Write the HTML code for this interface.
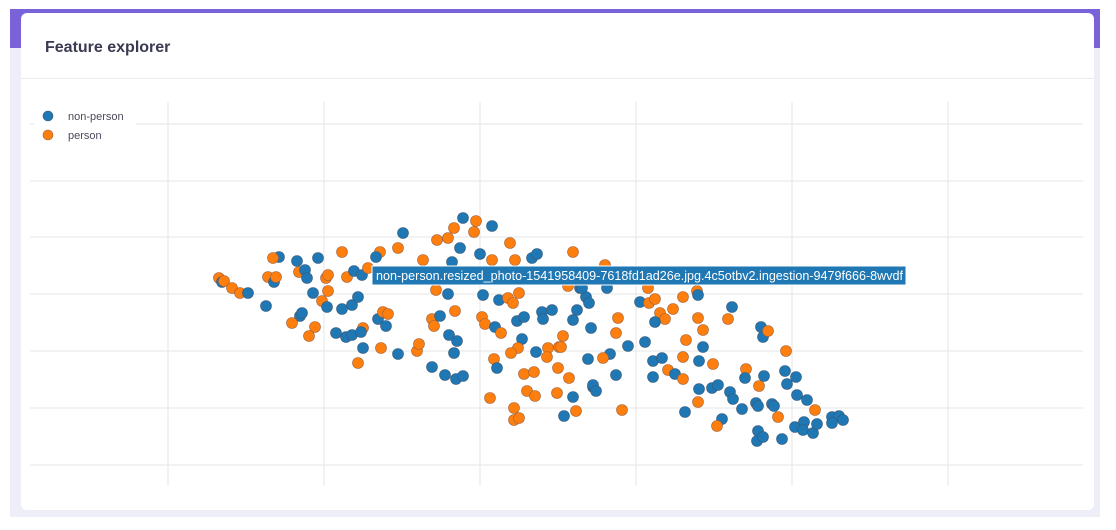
<!DOCTYPE html>
<html><head><meta charset="utf-8"><style>
body{margin:0;width:1116px;height:530px;background:#fff;position:relative;overflow:hidden;font-family:"Liberation Sans",sans-serif}
.bg{position:absolute;left:10px;top:9px;width:1090px;height:508px;background:#eeeef8}
.bar{position:absolute;left:10px;top:9px;width:1090px;height:39px;background:#7a62d8}
.card{position:absolute;left:21px;top:13px;width:1073px;height:497px;background:#fff;border-radius:6px}
.title{position:absolute;left:24px;top:26px;font-size:16px;font-weight:bold;color:#3a3a52}
.div{position:absolute;left:0;top:65px;width:100%;height:1px;background:#ececf0}
svg{position:absolute;left:0;top:0}
.b{fill:#1f77b4;stroke:#3a5a78;stroke-width:.6}
.o{fill:#ff7f0e;stroke:#a0603a;stroke-width:.6}
</style></head><body>
<div class="bg"></div><div class="bar"></div>
<div class="card"><div class="title">Feature explorer</div><div class="div"></div></div>
<svg width="1116" height="530">
<g stroke="#e6e6e6" stroke-width="1">
<line x1="168" y1="102" x2="168" y2="486"/><line x1="324" y1="102" x2="324" y2="486"/><line x1="480" y1="102" x2="480" y2="486"/><line x1="636" y1="102" x2="636" y2="486"/><line x1="792" y1="102" x2="792" y2="486"/><line x1="948" y1="102" x2="948" y2="486"/>
<line x1="30" y1="124" x2="1083" y2="124"/><line x1="30" y1="181" x2="1083" y2="181"/><line x1="30" y1="237" x2="1083" y2="237"/><line x1="30" y1="294" x2="1083" y2="294"/><line x1="30" y1="351" x2="1083" y2="351"/><line x1="30" y1="408" x2="1083" y2="408"/><line x1="30" y1="465" x2="1083" y2="465"/>
</g>
<rect x="34" y="104" width="102" height="42" fill="#fff"/>
<circle class="b" cx="48" cy="116" r="5"/><circle class="o" cx="48" cy="135" r="5"/>
<text x="68" y="120" font-size="11" fill="#4a4a5a" font-family="Liberation Sans,sans-serif">non-person</text>
<text x="68" y="139" font-size="11" fill="#4a4a5a" font-family="Liberation Sans,sans-serif">person</text>
<g>
<circle class="b" cx="463" cy="218" r="5.5"/><circle class="o" cx="476" cy="221" r="5.5"/><circle class="o" cx="454" cy="228" r="5.5"/><circle class="o" cx="474" cy="232" r="5.5"/><circle class="b" cx="492" cy="226" r="5.5"/><circle class="b" cx="403" cy="233" r="5.5"/><circle class="o" cx="437" cy="240" r="5.5"/><circle class="o" cx="448" cy="238" r="5.5"/><circle class="b" cx="460" cy="248" r="5.5"/><circle class="o" cx="510" cy="243" r="5.5"/><circle class="o" cx="398" cy="248" r="5.5"/><circle class="o" cx="380" cy="252" r="5.5"/><circle class="b" cx="376" cy="257" r="5.5"/><circle class="o" cx="342" cy="252" r="5.5"/><circle class="b" cx="279" cy="257" r="5.5"/><circle class="o" cx="273" cy="258" r="5.5"/><circle class="b" cx="297" cy="261" r="5.5"/><circle class="b" cx="318" cy="258" r="5.5"/><circle class="o" cx="423" cy="260" r="5.5"/><circle class="b" cx="452" cy="262" r="5.5"/><circle class="b" cx="480" cy="254" r="5.5"/><circle class="o" cx="492" cy="260" r="5.5"/><circle class="o" cx="515" cy="260" r="5.5"/><circle class="b" cx="532" cy="258" r="5.5"/><circle class="b" cx="537" cy="254" r="5.5"/><circle class="o" cx="573" cy="252" r="5.5"/>
<circle class="o" cx="219" cy="278" r="5.5"/><circle class="b" cx="222" cy="282" r="5.5"/><circle class="o" cx="224" cy="281" r="5.5"/><circle class="o" cx="232" cy="288" r="5.5"/><circle class="o" cx="240" cy="293" r="5.5"/><circle class="b" cx="248" cy="293" r="5.5"/><circle class="b" cx="266" cy="306" r="5.5"/><circle class="o" cx="268" cy="277" r="5.5"/><circle class="b" cx="274" cy="282" r="5.5"/><circle class="o" cx="276" cy="277" r="5.5"/><circle class="o" cx="299" cy="272" r="5.5"/><circle class="b" cx="305" cy="270" r="5.5"/><circle class="b" cx="307" cy="278" r="5.5"/><circle class="o" cx="326" cy="278" r="5.5"/><circle class="o" cx="328" cy="275" r="5.5"/><circle class="b" cx="313" cy="293" r="5.5"/><circle class="o" cx="328" cy="291" r="5.5"/><circle class="o" cx="322" cy="301" r="5.5"/><circle class="b" cx="327" cy="307" r="5.5"/><circle class="b" cx="300" cy="316" r="5.5"/><circle class="b" cx="302" cy="313" r="5.5"/><circle class="o" cx="292" cy="323" r="5.5"/><circle class="o" cx="315" cy="327" r="5.5"/><circle class="o" cx="309" cy="336" r="5.5"/><circle class="b" cx="342" cy="309" r="5.5"/><circle class="b" cx="352" cy="305" r="5.5"/><circle class="b" cx="358" cy="297" r="5.5"/><circle class="o" cx="347" cy="277" r="5.5"/><circle class="b" cx="354" cy="271" r="5.5"/><circle class="b" cx="362" cy="275" r="5.5"/><circle class="o" cx="368" cy="268" r="5.5"/><circle class="b" cx="336" cy="333" r="5.5"/><circle class="b" cx="346" cy="337" r="5.5"/><circle class="b" cx="352" cy="335" r="5.5"/><circle class="o" cx="363" cy="328" r="5.5"/><circle class="b" cx="361" cy="332" r="5.5"/><circle class="b" cx="363" cy="348" r="5.5"/><circle class="o" cx="358" cy="363" r="5.5"/><circle class="b" cx="378" cy="319" r="5.5"/><circle class="o" cx="383" cy="312" r="5.5"/><circle class="o" cx="388" cy="314" r="5.5"/><circle class="b" cx="386" cy="326" r="5.5"/><circle class="o" cx="381" cy="348" r="5.5"/><circle class="b" cx="398" cy="354" r="5.5"/><circle class="o" cx="417" cy="351" r="5.5"/><circle class="o" cx="419" cy="344" r="5.5"/><circle class="b" cx="432" cy="367" r="5.5"/><circle class="b" cx="445" cy="375" r="5.5"/><circle class="b" cx="456" cy="379" r="5.5"/><circle class="b" cx="463" cy="376" r="5.5"/><circle class="b" cx="454" cy="353" r="5.5"/><circle class="b" cx="457" cy="341" r="5.5"/><circle class="b" cx="449" cy="335" r="5.5"/><circle class="o" cx="432" cy="319" r="5.5"/><circle class="o" cx="434" cy="326" r="5.5"/><circle class="b" cx="440" cy="316" r="5.5"/><circle class="o" cx="455" cy="311" r="5.5"/><circle class="o" cx="436" cy="290" r="5.5"/><circle class="b" cx="448" cy="294" r="5.5"/><circle class="b" cx="483" cy="295" r="5.5"/><circle class="o" cx="482" cy="317" r="5.5"/><circle class="o" cx="485" cy="324" r="5.5"/><circle class="b" cx="495" cy="327" r="5.5"/><circle class="o" cx="501" cy="333" r="5.5"/><circle class="b" cx="499" cy="300" r="5.5"/><circle class="o" cx="508" cy="298" r="5.5"/><circle class="o" cx="513" cy="303" r="5.5"/><circle class="o" cx="519" cy="293" r="5.5"/><circle class="b" cx="522" cy="339" r="5.5"/><circle class="o" cx="518" cy="348" r="5.5"/><circle class="o" cx="511" cy="353" r="5.5"/><circle class="b" cx="536" cy="352" r="5.5"/><circle class="b" cx="517" cy="321" r="5.5"/><circle class="b" cx="524" cy="317" r="5.5"/><circle class="b" cx="542" cy="312" r="5.5"/><circle class="b" cx="552" cy="310" r="5.5"/><circle class="b" cx="543" cy="319" r="5.5"/><circle class="b" cx="573" cy="320" r="5.5"/><circle class="b" cx="577" cy="310" r="5.5"/><circle class="o" cx="563" cy="336" r="5.5"/><circle class="o" cx="559" cy="347" r="5.5"/><circle class="o" cx="548" cy="348" r="5.5"/><circle class="o" cx="547" cy="357" r="5.5"/><circle class="b" cx="588" cy="359" r="5.5"/><circle class="o" cx="494" cy="359" r="5.5"/><circle class="b" cx="497" cy="368" r="5.5"/><circle class="o" cx="524" cy="374" r="5.5"/><circle class="o" cx="534" cy="372" r="5.5"/><circle class="o" cx="558" cy="368" r="5.5"/><circle class="o" cx="569" cy="378" r="5.5"/><circle class="o" cx="527" cy="391" r="5.5"/><circle class="o" cx="535" cy="396" r="5.5"/><circle class="o" cx="557" cy="393" r="5.5"/><circle class="b" cx="573" cy="397" r="5.5"/><circle class="o" cx="576" cy="411" r="5.5"/><circle class="b" cx="564" cy="416" r="5.5"/><circle class="o" cx="490" cy="398" r="5.5"/><circle class="o" cx="514" cy="408" r="5.5"/><circle class="o" cx="514" cy="420" r="5.5"/><circle class="o" cx="519" cy="418" r="5.5"/><circle class="b" cx="593" cy="387" r="5.5"/><circle class="b" cx="580" cy="288" r="5.5"/><circle class="b" cx="586" cy="297" r="5.5"/><circle class="b" cx="589" cy="303" r="5.5"/><circle class="o" cx="568" cy="286" r="5.5"/><circle class="b" cx="591" cy="328" r="5.5"/>
<circle class="o" cx="605" cy="265" r="5.5"/><circle class="b" cx="582" cy="288" r="5.5"/><circle class="b" cx="607" cy="288" r="5.5"/><circle class="o" cx="618" cy="318" r="5.5"/><circle class="o" cx="616" cy="333" r="5.5"/><circle class="b" cx="628" cy="346" r="5.5"/><circle class="o" cx="561" cy="347" r="5.5"/><circle class="b" cx="610" cy="354" r="5.5"/><circle class="o" cx="603" cy="358" r="5.5"/><circle class="b" cx="616" cy="375" r="5.5"/><circle class="b" cx="593" cy="385" r="5.5"/><circle class="b" cx="596" cy="391" r="5.5"/><circle class="o" cx="622" cy="410" r="5.5"/><circle class="b" cx="640" cy="302" r="5.5"/><circle class="o" cx="649" cy="303" r="5.5"/><circle class="o" cx="655" cy="299" r="5.5"/><circle class="o" cx="648" cy="288" r="5.5"/><circle class="o" cx="660" cy="313" r="5.5"/><circle class="o" cx="665" cy="319" r="5.5"/><circle class="b" cx="655" cy="322" r="5.5"/><circle class="o" cx="673" cy="309" r="5.5"/><circle class="o" cx="683" cy="297" r="5.5"/><circle class="o" cx="697" cy="291" r="5.5"/><circle class="b" cx="698" cy="295" r="5.5"/><circle class="b" cx="732" cy="307" r="5.5"/><circle class="o" cx="728" cy="319" r="5.5"/><circle class="o" cx="698" cy="318" r="5.5"/><circle class="o" cx="703" cy="330" r="5.5"/><circle class="o" cx="686" cy="340" r="5.5"/><circle class="b" cx="703" cy="347" r="5.5"/><circle class="b" cx="645" cy="342" r="5.5"/><circle class="b" cx="653" cy="361" r="5.5"/><circle class="b" cx="662" cy="358" r="5.5"/><circle class="b" cx="653" cy="377" r="5.5"/><circle class="o" cx="683" cy="357" r="5.5"/><circle class="b" cx="699" cy="361" r="5.5"/><circle class="o" cx="668" cy="370" r="5.5"/><circle class="b" cx="675" cy="374" r="5.5"/><circle class="o" cx="683" cy="379" r="5.5"/><circle class="o" cx="713" cy="364" r="5.5"/><circle class="b" cx="699" cy="389" r="5.5"/><circle class="b" cx="712" cy="388" r="5.5"/><circle class="b" cx="718" cy="385" r="5.5"/><circle class="b" cx="730" cy="392" r="5.5"/><circle class="b" cx="733" cy="399" r="5.5"/><circle class="o" cx="698" cy="402" r="5.5"/><circle class="b" cx="685" cy="412" r="5.5"/><circle class="b" cx="722" cy="419" r="5.5"/><circle class="o" cx="717" cy="426" r="5.5"/><circle class="b" cx="742" cy="409" r="5.5"/><circle class="o" cx="746" cy="369" r="5.5"/><circle class="b" cx="745" cy="378" r="5.5"/><circle class="b" cx="756" cy="403" r="5.5"/><circle class="b" cx="758" cy="406" r="5.5"/><circle class="o" cx="759" cy="386" r="5.5"/><circle class="b" cx="764" cy="376" r="5.5"/><circle class="b" cx="772" cy="404" r="5.5"/><circle class="b" cx="774" cy="406" r="5.5"/><circle class="o" cx="778" cy="417" r="5.5"/><circle class="b" cx="758" cy="431" r="5.5"/><circle class="b" cx="757" cy="441" r="5.5"/><circle class="b" cx="763" cy="437" r="5.5"/><circle class="b" cx="782" cy="439" r="5.5"/><circle class="b" cx="795" cy="427" r="5.5"/><circle class="b" cx="804" cy="422" r="5.5"/><circle class="b" cx="803" cy="430" r="5.5"/><circle class="b" cx="813" cy="433" r="5.5"/><circle class="b" cx="817" cy="424" r="5.5"/><circle class="o" cx="815" cy="410" r="5.5"/><circle class="b" cx="832" cy="417" r="5.5"/><circle class="b" cx="839" cy="416" r="5.5"/><circle class="b" cx="843" cy="420" r="5.5"/><circle class="b" cx="832" cy="423" r="5.5"/><circle class="o" cx="786" cy="351" r="5.5"/><circle class="b" cx="785" cy="371" r="5.5"/><circle class="b" cx="787" cy="384" r="5.5"/><circle class="b" cx="796" cy="377" r="5.5"/><circle class="b" cx="797" cy="395" r="5.5"/><circle class="b" cx="807" cy="400" r="5.5"/><circle class="b" cx="761" cy="327" r="5.5"/><circle class="b" cx="763" cy="337" r="5.5"/><circle class="o" cx="768" cy="331" r="5.5"/>
</g>
<rect x="372" y="266" width="534" height="19" fill="#1f77b4" stroke="#fff" stroke-width="1"/>
<text x="376" y="280" font-size="12.5" textLength="527" lengthAdjust="spacingAndGlyphs" fill="#fff" font-family="Liberation Sans,sans-serif">non-person.resized_photo-1541958409-7618fd1ad26e.jpg.4c5otbv2.ingestion-9479f666-8wvdf</text>
</svg>
</body></html>
